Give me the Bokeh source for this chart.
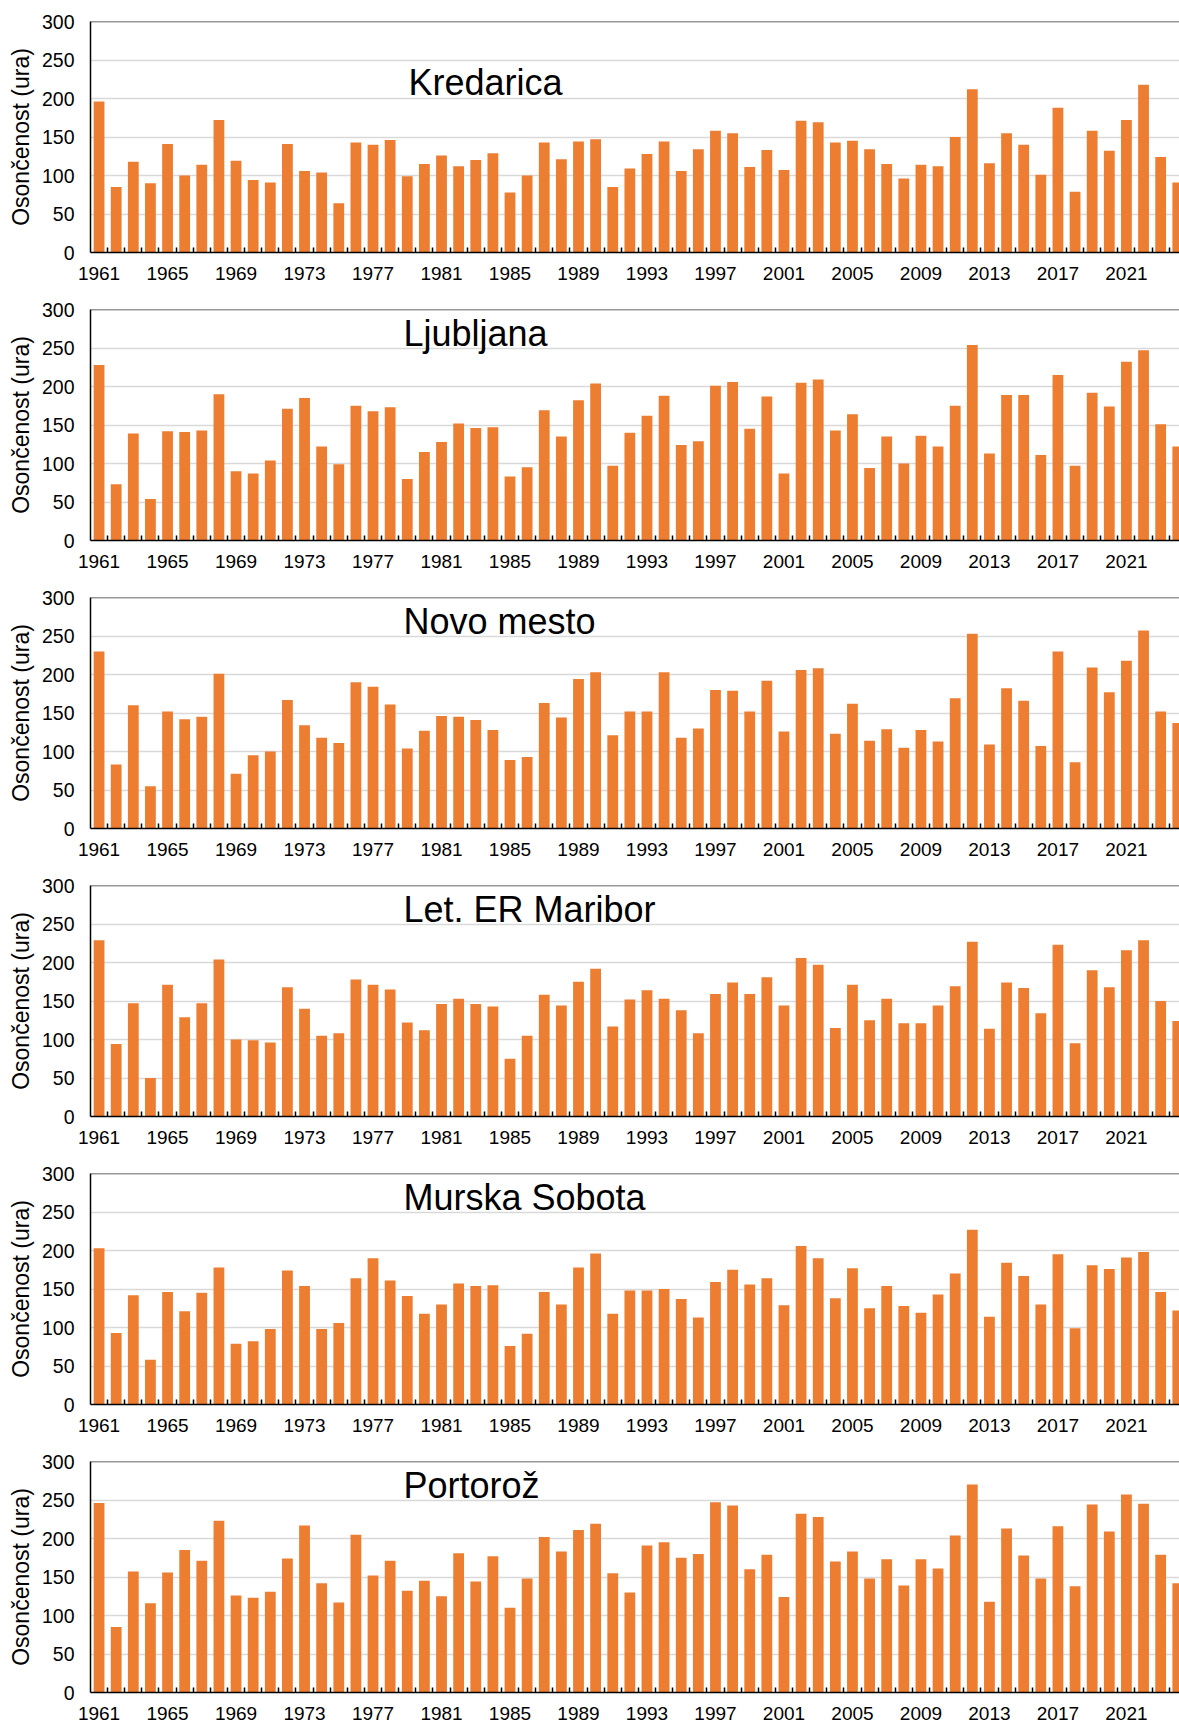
from bokeh.plotting import figure
from bokeh.layouts import column
from bokeh.models import Range1d, FixedTicker, Label, Span, ColumnDataSource
from bokeh.embed import file_html
from bokeh.resources import INLINE

# ---------------- data ----------------
years = list(range(1961, 2025))
label_years = years[::4]
y_ticks = [0, 50, 100, 150, 200, 250, 300]

stations = ["Kredarica", "Ljubljana", "Novo mesto", "Let. ER Maribor", "Murska Sobota", "Portorož"]

kredarica = [196, 85, 118, 90, 141, 100, 114, 172, 119, 94,
             91, 141, 106, 104, 64, 143, 140, 146, 99, 115,
             126, 112, 120, 129, 78, 100, 143, 121, 144, 147,
             85, 109, 128, 144, 106, 134, 158, 155, 111, 133,
             107, 171, 169, 143, 145, 134, 115, 96, 114, 112,
             150, 212, 116, 155, 140, 101, 188, 79, 158, 132,
             172, 218, 124, 91]

ljubljana = [228, 73, 139, 54, 142, 141, 143, 190, 90, 87,
             104, 171, 185, 122, 99, 175, 168, 173, 80, 115,
             128, 152, 146, 147, 83, 95, 169, 135, 182, 204,
             97, 140, 162, 188, 124, 129, 201, 206, 145, 187,
             87, 205, 209, 143, 164, 94, 135, 100, 136, 122,
             175, 254, 113, 189, 189, 111, 215, 97, 192, 174,
             232, 247, 151, 122]

novo_mesto = [230, 83, 160, 55, 152, 142, 145, 201, 71, 95,
              100, 167, 134, 118, 111, 190, 184, 161, 104, 127,
              146, 145, 141, 128, 89, 93, 163, 144, 194, 203,
              121, 152, 152, 203, 118, 130, 180, 179, 152, 192,
              126, 206, 208, 123, 162, 114, 129, 105, 128, 113,
              169, 253, 109, 182, 166, 107, 230, 86, 209, 177,
              218, 257, 152, 137]

maribor = [229, 94, 147, 50, 171, 129, 147, 204, 100, 99,
           96, 168, 140, 105, 108, 178, 171, 165, 122, 112,
           146, 153, 146, 143, 75, 105, 158, 144, 175, 192,
           117, 152, 164, 153, 138, 108, 159, 174, 159, 181,
           144, 206, 197, 115, 171, 125, 153, 121, 121, 144,
           169, 227, 114, 174, 167, 134, 223, 95, 190, 168,
           216, 229, 150, 124]

murska_sobota = [203, 93, 142, 58, 146, 121, 145, 178, 79, 82,
                 98, 174, 154, 98, 106, 164, 190, 161, 141, 118,
                 130, 157, 154, 155, 76, 92, 146, 130, 178, 196,
                 118, 148, 148, 150, 137, 113, 159, 175, 156, 164,
                 129, 206, 190, 138, 177, 125, 154, 128, 119, 143,
                 170, 227, 114, 184, 167, 130, 195, 99, 181, 176,
                 191, 198, 146, 122]

portoroz = [246, 85, 157, 116, 156, 185, 171, 223, 126, 123,
            131, 174, 217, 142, 117, 205, 152, 171, 132, 145,
            125, 181, 144, 177, 110, 148, 202, 183, 211, 219,
            155, 130, 191, 195, 175, 180, 247, 243, 160, 179,
            124, 232, 228, 170, 183, 148, 173, 139, 173, 161,
            204, 270, 118, 213, 178, 148, 216, 138, 244, 209,
            257, 245, 179, 142]

series = [kredarica, ljubljana, novo_mesto, maribor, murska_sobota, portoroz]

# ---------------- style ----------------
FONT = "Liberation Sans"
BAR = "#ED7D31"
WIDTH = 1179
LEFT = 90
FRAME_H = 231
TOP = 21
X0, X1 = 1960.5, 2024.1
heights = [288, 288, 288, 288, 288, 286]
title_dx = [318, 313, 313, 313, 313, 313]   # px from frame left
title_dy = [61, 24, 24, 24, 24, 24]         # px from frame top

frame_w = WIDTH - LEFT
px_per_x = frame_w / (X1 - X0)
px_per_y = FRAME_H / 300.0

figs = []
for i, (name, vals) in enumerate(zip(stations, series)):
    h = heights[i]
    bottom = h - TOP - FRAME_H
    p = figure(width=WIDTH, height=h, output_backend="svg", toolbar_location=None,
               x_range=Range1d(X0, X1), y_range=Range1d(0, 300),
               min_border_left=LEFT, min_border_right=0,
               min_border_top=TOP, min_border_bottom=bottom)
    p.outline_line_color = None
    p.background_fill_color = "white"

    src = ColumnDataSource(dict(year=years, val=vals))
    p.vbar(x="year", top="val", width=0.63, bottom=0, source=src,
           fill_color=BAR, line_color=None)

    # grid
    p.xgrid.grid_line_color = None
    p.ygrid.ticker = FixedTicker(ticks=y_ticks)
    p.ygrid.grid_line_color = "#D9D9D9"
    p.ygrid.grid_line_width = 1.5
    p.ygrid.level = "underlay"

    # y axis
    ya = p.yaxis[0]
    ya.ticker = FixedTicker(ticks=y_ticks)
    ya.axis_line_color = "black"
    ya.axis_line_width = 1.5
    ya.major_tick_line_color = None
    ya.minor_tick_line_color = None
    ya.major_tick_in = 0
    ya.major_tick_out = 0
    ya.major_label_standoff = 16
    ya.major_label_text_font = FONT
    ya.major_label_text_font_size = "19.5px"
    ya.major_label_text_color = "black"
    ya.axis_label = "Osončenost (ura)"
    ya.axis_label_text_font = FONT
    ya.axis_label_text_font_size = "23px"
    ya.axis_label_text_font_style = "normal"
    ya.axis_label_text_color = "black"
    ya.axis_label_standoff = 5

    # x axis: labels every 4 years, small inner ticks between categories
    xa = p.xaxis[0]
    xa.ticker = FixedTicker(ticks=label_years, minor_ticks=[y + 0.5 for y in years])
    xa.axis_line_color = "black"
    xa.axis_line_width = 1.5
    xa.major_tick_line_color = None
    xa.minor_tick_line_color = "black"
    xa.minor_tick_line_width = 1.5
    xa.minor_tick_in = 5
    xa.minor_tick_out = 0
    xa.major_tick_in = 0
    xa.major_tick_out = 0
    xa.major_label_standoff = 14
    xa.major_label_text_font = FONT
    xa.major_label_text_font_size = "19px"
    xa.major_label_text_color = "black"

    # top border line
    p.add_layout(Span(location=300, dimension="width", line_color="#333333", line_width=1.5))

    # station name
    tx = X0 + title_dx[i] / px_per_x
    ty = 300 - title_dy[i] / px_per_y
    p.add_layout(Label(x=tx, y=ty, text=name, text_font=FONT, text_font_size="36px",
                       text_baseline="alphabetic", text_align="left", text_color="black"))
    figs.append(p)

layout = column(*figs, spacing=0)
open("out.html", "w").write(file_html(layout, INLINE))
